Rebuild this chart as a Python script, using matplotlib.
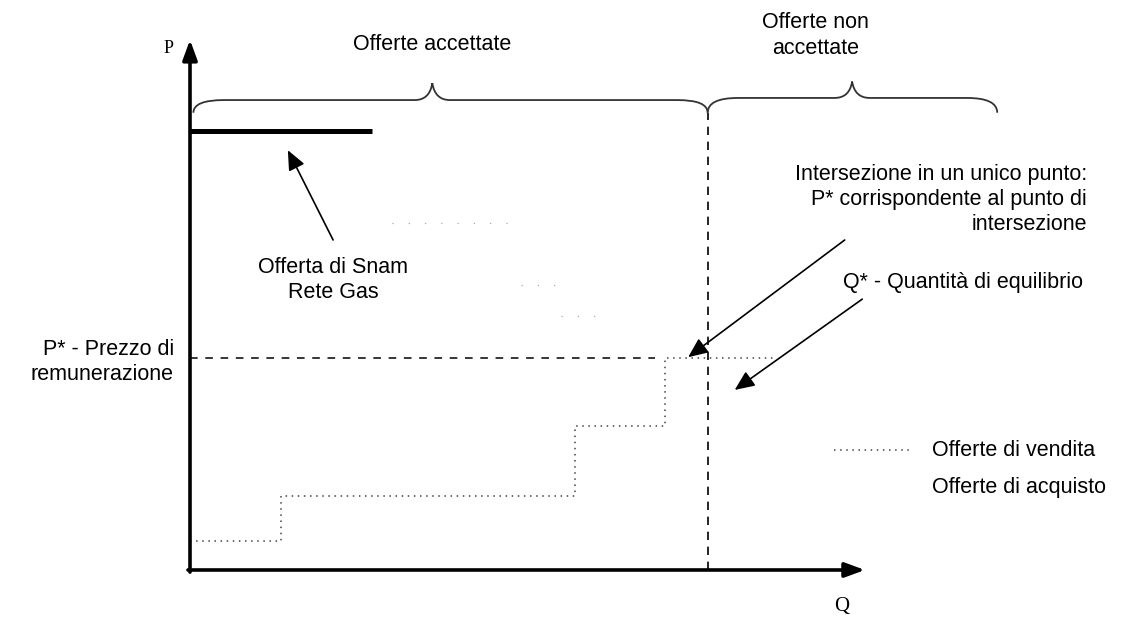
import matplotlib
matplotlib.use('Agg')
import matplotlib.pyplot as plt
import numpy as np
from matplotlib.path import Path
from matplotlib.patches import PathPatch

plt.rcParams['font.family'] = ['Liberation Sans', 'DejaVu Sans']

# diagram values, Q on x axis (0..100), P on y axis (0..100)
supply_q = [0, 13.5, 57, 70.4, 87]        # step edges of "Offerte di vendita"
supply_p = [5.5, 14.0, 27.3, 40.2]        # price of each step
demand_q = [30, 49, 55, 62]               # faint remnants of "Offerte di acquisto"
demand_p = [65.7, 54.0, 48.1]
snam_q = [0, 27]                          # offerta di Snam Rete Gas
snam_p = 83.1
p_star = 40.2
q_star = 76.7
q_dash_end = 68.9
brace_top = 86.6

texts = {
    'acc': 'Offerte accettate',
    'nonacc': 'Offerte non\naccettate',
    'inter': 'Intersezione in un unico punto:\nP* corrispondente al punto di\nintersezione',
    'qstar': 'Q* - Quantità di equilibrio',
    'snam': 'Offerta di Snam\nRete Gas',
    'pstar': 'P* - Prezzo di\nremunerazione',
    'vend': 'Offerte di vendita',
    'acq': 'Offerte di acquisto',
}

fig = plt.figure(figsize=(11.39, 6.23), dpi=100)
ax = fig.add_axes([0, 0, 1, 1])
ax.set_xlim(-28.15, 140.6)
ax.set_ylim(-10.04, 107.95)
ax.axis('off')

# axes with arrows
ax.annotate('', xy=(0, 100.4), xytext=(0, -0.4),
            arrowprops=dict(arrowstyle='-|>,head_width=0.22,head_length=0.6', lw=2.6,
                            color='black', mutation_scale=20, shrinkA=0, shrinkB=0))
ax.annotate('', xy=(100, 0), xytext=(-0.3, 0),
            arrowprops=dict(arrowstyle='-|>,head_width=0.22,head_length=0.6', lw=2.6,
                            color='black', mutation_scale=20, shrinkA=0, shrinkB=0))
ax.text(-2.4, 98.8, 'P', family='Liberation Serif', fontsize=13, ha='right', va='center')
ax.text(96.5, -7, 'Q', family='Liberation Serif', fontsize=15, ha='center', va='center')

# supply steps
ax.step(supply_q, supply_p + [supply_p[-1]], where='post', color='#444444',
        lw=1.1, linestyle=(0, (1, 3)))
# demand remnants (almost invisible in the original), only the flat parts
ax.hlines(demand_p, demand_q[:-1], demand_q[1:], color='#aaaaaa',
          lw=0.9, linestyle=(0, (1, 12)))

# Snam offer
ax.plot(snam_q, [snam_p, snam_p], color='black', lw=3.6, solid_capstyle='butt')

# equilibrium lines
ax.plot([0, q_dash_end], [p_star, p_star], color='black', lw=1.1, linestyle=(0, (5, 5)))
ax.plot([q_star, q_star], [0, brace_top], color='black', lw=1.2, linestyle=(0, (5, 4)))


def brace(x0, x1, xt, yb, yf, ytip, r_end=4.5, r_tip=2.6):
    verts = [(x0, yb), (x0, yf), (x0 + r_end, yf),
             (xt - r_tip, yf),
             (xt - r_tip * 0.15, yf), (xt, ytip),
             (xt + r_tip * 0.15, yf), (xt + r_tip, yf),
             (x1 - r_end, yf),
             (x1, yf), (x1, yb)]
    codes = [Path.MOVETO, Path.CURVE3, Path.CURVE3, Path.LINETO,
             Path.CURVE3, Path.CURVE3, Path.CURVE3, Path.CURVE3,
             Path.LINETO, Path.CURVE3, Path.CURVE3]
    ax.add_patch(PathPatch(Path(verts, codes), fill=False, lw=1.3, edgecolor='#333333'))


brace(0.5, q_star, 35.9, brace_top, 89.0, 92.2)
brace(q_star, 119.6, 98.1, brace_top, 89.4, 92.5)

fs = 15.5
ax.text(35.9, 99.6, texts['acc'], fontsize=fs, ha='center', va='center')
ax.text(92.7, 101.2, texts['nonacc'], fontsize=fs, ha='center', va='center', linespacing=1.3)
ax.text(132.9, 70.1, texts['inter'], fontsize=fs, ha='right', va='center',
        multialignment='right', linespacing=1.25)
ax.text(96.7, 54.4, texts['qstar'], fontsize=fs, ha='left', va='center')
ax.text(21.2, 54.9, texts['snam'], fontsize=fs, ha='center', va='center', linespacing=1.25)
ax.text(-2.4, 39.4, texts['pstar'], fontsize=fs, ha='right', va='center',
        multialignment='right', linespacing=1.25)

# legend
ax.plot([95.4, 107.0], [22.7, 22.7], color='#444444', lw=1.1, linestyle=(0, (1, 3)))
ax.text(109.9, 22.7, texts['vend'], fontsize=fs, ha='left', va='center')
ax.text(109.9, 15.7, texts['acq'], fontsize=fs, ha='left', va='center')

# pointer arrows
arrow_kw = dict(arrowstyle='-|>,head_width=0.35,head_length=0.8', lw=1.2,
                color='black', mutation_scale=15, shrinkA=0, shrinkB=0)
ax.annotate('', xy=(14.5, 79.5), xytext=(21.2, 62.5), arrowprops=arrow_kw)
ax.annotate('', xy=(73.8, 40.3), xytext=(97.0, 62.5), arrowprops=arrow_kw)
ax.annotate('', xy=(80.7, 34.1), xytext=(99.6, 51.3), arrowprops=arrow_kw)

fig.savefig('out.png', dpi=100, facecolor='white')
